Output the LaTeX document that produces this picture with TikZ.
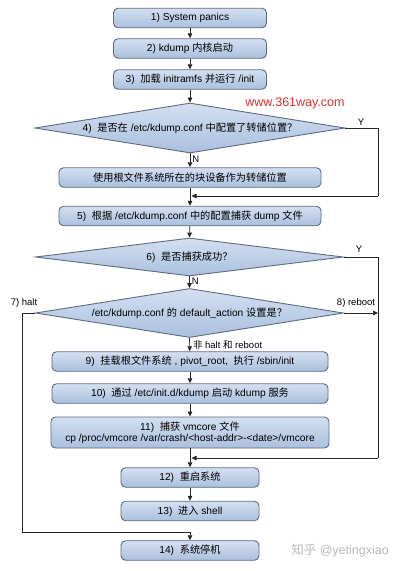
\documentclass[tikz,border=0pt]{standalone}
\usepackage{fontspec}
\setmainfont{Liberation Sans}
\newfontfamily\cjk{Noto Sans CJK SC}
\usetikzlibrary{shapes.geometric,arrows.meta}
\definecolor{bordc}{HTML}{5F6B7C}
\definecolor{filltop}{HTML}{D3E0F1}
\definecolor{fillbot}{HTML}{AAC0DE}
\definecolor{wmred}{HTML}{D9302C}
\tikzset{
  stepbox/.style={draw=bordc, line width=0.9pt, rounded corners=4.5pt, top color=filltop, bottom color=fillbot, inner sep=0pt, font=\fontsize{10.2}{11.5}\selectfont, align=center},
  dia/.style={diamond, draw=bordc, line width=0.9pt, top color=filltop, bottom color=fillbot, inner sep=0pt},
  dtext/.style={font=\fontsize{10.2}{11.5}\selectfont},
  conn/.style={draw=black!85, line width=0.7pt},
  arr/.style={conn, -{Triangle[length=5pt,width=4.5pt]}},
  lbl/.style={font=\fontsize{9.5}{11}\selectfont, inner sep=1pt}
}
\begin{document}
\begin{tikzpicture}[x=1pt,y=-1pt]
\useasboundingbox (0,0) rectangle (406,571);
\fill[white] (0,0) rectangle (406,571);
% boxes
\node[stepbox, minimum width=153pt, minimum height=19.5pt] (b1) at (190,18) {1) System panics};
\node[stepbox, minimum width=153pt, minimum height=19.5pt] (b2) at (190,48.5) {2) kdump {\cjk 内核启动}};
\node[stepbox, minimum width=153pt, minimum height=19.5pt] (b3) at (190,79.5) {3)\ \ {\cjk 加载} initramfs {\cjk 并运行} /init};
\node[dia, minimum width=310pt, minimum height=50pt] (d4) at (190,128) {};
\node[dtext] (t4) at (d4.center) {4)\ \ {\cjk 是否在} /etc/kdump.conf {\cjk 中配置了转储位置？}};
\node[stepbox, minimum width=262pt, minimum height=19.5pt] (b4) at (190,177.5) {\cjk 使用根文件系统所在的块设备作为转储位置};
\node[stepbox, minimum width=262pt, minimum height=19.5pt] (b5) at (190,216) {5)\ \ {\cjk 根据} /etc/kdump.conf {\cjk 中的配置捕获} dump {\cjk 文件}};
\node[dia, minimum width=308pt, minimum height=38pt] (d6) at (189.5,257) {};
\node[dtext] (t6) at (d6.center) {6)\ \ {\cjk 是否捕获成功？}};
\node[dia, minimum width=308pt, minimum height=49pt] (d7) at (189.5,313) {};
\node[dtext] (t7) at (d7.center) {/etc/kdump.conf {\cjk 的} default\_action {\cjk 设置是？}};
\node[stepbox, minimum width=276pt, minimum height=19.5pt] (b9) at (190,361.5) {9)\ \ {\cjk 挂载根文件系统} , pivot\_root,\ \ {\cjk 执行} /sbin/init};
\node[stepbox, minimum width=276pt, minimum height=19.5pt] (b10) at (190,393.5) {10)\ \ {\cjk 通过} /etc/init.d/kdump {\cjk 启动} kdump {\cjk 服务}};
\node[stepbox, minimum width=278pt, minimum height=31pt] (b11) at (190,432.5) {11)\ \ {\cjk 捕获} vmcore {\cjk 文件}\\cp /proc/vmcore /var/crash/<host-addr>-<date>/vmcore};
\node[stepbox, minimum width=138pt, minimum height=19.5pt] (b12) at (190,477.5) {12)\ \ {\cjk 重启系统}};
\node[stepbox, minimum width=138pt, minimum height=19.5pt] (b13) at (190,511) {13)\ \ {\cjk 进入} shell};
\node[stepbox, minimum width=138pt, minimum height=19.5pt] (b14) at (190,550.5) {14)\ \ {\cjk 系统停机}};
% junction coordinates
\coordinate (y4a) at (378,128);
\coordinate (y4b) at (378,196);
\coordinate (j4) at (190,196);
\coordinate (y6a) at (378,257);
\coordinate (y6b) at (378,458);
\coordinate (j6) at (190,458);
\coordinate (rb) at (378,313);
\coordinate (h1) at (22,313);
\coordinate (h2) at (22,532);
\coordinate (j7) at (190,532);
% connectors
\draw[arr] (b1) -- (b2);
\draw[arr] (b2) -- (b3);
\draw[arr] (b3) -- (d4.north);
\draw[arr] (d4.south) -- (b4) node[lbl, pos=0.45, right=1pt] {N};
\draw[arr] (b4) -- (b5);
\draw[conn] (d4.east) -- (y4a) -- (y4b);
\draw[arr] (y4b) -- ([xshift=1.5pt]j4);
\node[lbl] (ly) at (361,122) {Y};
\draw[arr] (b5) -- (d6.north);
\draw[conn] (d6.east) -- (y6a) -- (y6b);
\draw[arr] (y6b) -- ([xshift=1.5pt]j6);
\node[lbl] (ly6) at (359,249) {Y};
\draw[arr] (d6.south) -- (d7.north) node[lbl, pos=0.4, right=1pt] {N};
\draw[arr] (d7.east) -- (rb);
\node[lbl] (lr) at (356,303) {8) reboot};
\draw[conn] (d7.west) -- (h1) -- (h2) -- (j7);
\draw[arr] (j7) -- (b14);
\node[lbl] (lh) at (24,303) {7) halt};
\draw[arr] (d7.south) -- (b9) node[lbl, pos=0.55, right=2pt] {{\cjk 非} halt {\cjk 和} reboot};
\draw[arr] (b9) -- (b10);
\draw[arr] (b10) -- (b11);
\draw[arr] (b11) -- (b12);
\draw[arr] (b12) -- (b13);
% watermarks
\node[font=\fontsize{12.5}{14}\selectfont, text=wmred, inner sep=0pt] (wm) at (295,103) {www.361way.com};
\node[font=\fontsize{12.5}{14}\selectfont, text=black!28, inner sep=0pt] (zh) at (340,551) {{\cjk 知乎} @yetingxiao};
\end{tikzpicture}
\end{document}
